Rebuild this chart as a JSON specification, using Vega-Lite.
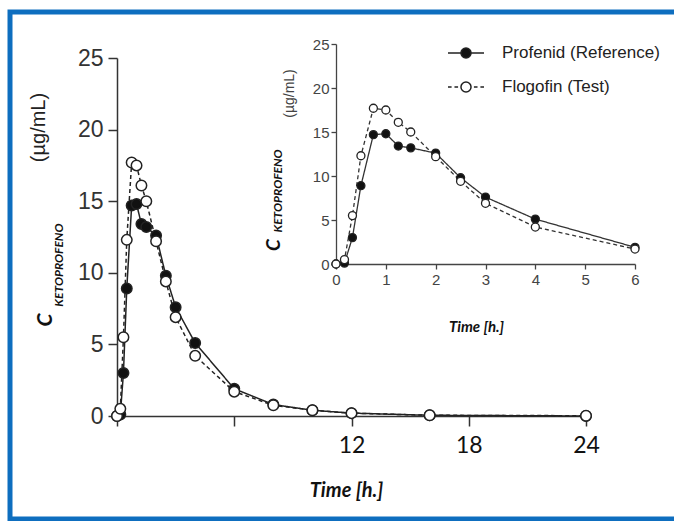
{
  "$schema": "https://vega.github.io/schema/vega-lite/v6.json",
  "width": 670,
  "height": 507,
  "autosize": {"type": "none"},
  "padding": {"left": 10, "top": 12, "right": -6, "bottom": 2},
  "background": "white",
  "config": {"view": {"stroke": "#0e6ebf", "strokeWidth": 5}, "axis": {"grid": false}},
  "datasets": {
    "pk": [
      {"t": 0, "c": 0, "s": "Profenid (Reference)"},
      {"t": 0.17, "c": 0.1, "s": "Profenid (Reference)"},
      {"t": 0.33, "c": 3.0, "s": "Profenid (Reference)"},
      {"t": 0.5, "c": 8.9, "s": "Profenid (Reference)"},
      {"t": 0.75, "c": 14.7, "s": "Profenid (Reference)"},
      {"t": 1, "c": 14.8, "s": "Profenid (Reference)"},
      {"t": 1.25, "c": 13.4, "s": "Profenid (Reference)"},
      {"t": 1.5, "c": 13.2, "s": "Profenid (Reference)"},
      {"t": 2, "c": 12.6, "s": "Profenid (Reference)"},
      {"t": 2.5, "c": 9.8, "s": "Profenid (Reference)"},
      {"t": 3, "c": 7.6, "s": "Profenid (Reference)"},
      {"t": 4, "c": 5.1, "s": "Profenid (Reference)"},
      {"t": 6, "c": 1.9, "s": "Profenid (Reference)"},
      {"t": 8, "c": 0.8, "s": "Profenid (Reference)"},
      {"t": 10, "c": 0.4, "s": "Profenid (Reference)"},
      {"t": 12, "c": 0.2, "s": "Profenid (Reference)"},
      {"t": 16, "c": 0.05, "s": "Profenid (Reference)"},
      {"t": 24, "c": 0.0, "s": "Profenid (Reference)"},
      {"t": 0, "c": 0, "s": "Flogofin (Test)"},
      {"t": 0.17, "c": 0.5, "s": "Flogofin (Test)"},
      {"t": 0.33, "c": 5.5, "s": "Flogofin (Test)"},
      {"t": 0.5, "c": 12.3, "s": "Flogofin (Test)"},
      {"t": 0.75, "c": 17.7, "s": "Flogofin (Test)"},
      {"t": 1, "c": 17.5, "s": "Flogofin (Test)"},
      {"t": 1.25, "c": 16.1, "s": "Flogofin (Test)"},
      {"t": 1.5, "c": 15.0, "s": "Flogofin (Test)"},
      {"t": 2, "c": 12.2, "s": "Flogofin (Test)"},
      {"t": 2.5, "c": 9.4, "s": "Flogofin (Test)"},
      {"t": 3, "c": 6.9, "s": "Flogofin (Test)"},
      {"t": 4, "c": 4.2, "s": "Flogofin (Test)"},
      {"t": 6, "c": 1.7, "s": "Flogofin (Test)"},
      {"t": 8, "c": 0.75, "s": "Flogofin (Test)"},
      {"t": 10, "c": 0.4, "s": "Flogofin (Test)"},
      {"t": 12, "c": 0.2, "s": "Flogofin (Test)"},
      {"t": 16, "c": 0.05, "s": "Flogofin (Test)"},
      {"t": 24, "c": 0.02, "s": "Flogofin (Test)"}
    ]
  },
  "resolve": {
    "scale": {"x": "independent", "y": "independent"},
    "axis": {"x": "independent", "y": "independent"}
  },
  "layer": [
    {
      "data": {"name": "pk"},
      "layer": [
        {
          "mark": {"type": "line", "stroke": "#222", "strokeWidth": 1.5},
          "encoding": {
            "x": {
              "field": "t", "type": "quantitative",
              "scale": {"domain": [0, 24], "range": [107, 576], "nice": false, "zero": false},
              "axis": {
                "orient": "bottom", "offset": -103, "values": [0, 6, 12, 18, 24],
                "labelExpr": "datum.value >= 12 ? datum.label : ''",
                "title": "Time [h.]", "titleX": 336, "titleY": 80, "titleAlign": "center", "titleBaseline": "alphabetic",
                "titleFont": "Lato", "titleFontSize": 20, "titleFontStyle": "italic", "titleFontWeight": "bold", "titleColor": "#111",
                "labelFont": "Lato", "labelFontSize": 23, "labelColor": "#111", "labelPadding": 8, "labelFlush": false, "labelOverlap": false,
                "tickSize": 10, "tickWidth": 1.5, "tickColor": "#333", "domainColor": "#333", "domainWidth": 1.5, "grid": false
              }
            },
            "y": {
              "field": "c", "type": "quantitative",
              "scale": {"domain": [0, 25], "range": [404, 46], "nice": false, "zero": false},
              "axis": {
                "orient": "left", "offset": -107, "values": [0, 5, 10, 15, 20, 25],
                "title": "(µg/mL)", "titleX": -73, "titleY": 115, "titleAngle": 270, "titleAlign": "center", "titleBaseline": "alphabetic",
                "titleFont": "Liberation Sans", "titleFontSize": 20, "titleFontWeight": "normal", "titleColor": "#222",
                "labelFont": "Liberation Sans", "labelFontSize": 23, "labelColor": "#333", "labelPadding": 5, "labelFlush": false, "labelOverlap": false,
                "tickSize": 9, "tickWidth": 1.5, "tickColor": "#333", "domainColor": "#333", "domainWidth": 1.5, "grid": false
              }
            },
            "strokeDash": {
              "field": "s", "type": "nominal",
              "scale": {"domain": ["Flogofin (Test)", "Profenid (Reference)"], "range": [[4, 3], [1, 0]]},
              "legend": null
            }
          }
        },
        {
          "mark": {"type": "point", "shape": "circle", "filled": true, "size": 110, "stroke": "#222", "strokeWidth": 1.5, "opacity": 1},
          "encoding": {
            "x": {"field": "t", "type": "quantitative"},
            "y": {"field": "c", "type": "quantitative"},
            "fill": {
              "field": "s", "type": "nominal",
              "scale": {"domain": ["Profenid (Reference)", "Flogofin (Test)"], "range": ["#111111", "#ffffff"]},
              "legend": {
                "orient": "none", "legendX": 437, "legendY": 22, "title": null, "padding": 0,
                "symbolType": "M-1,0H-0.28M0.28,0H1M0.28,0A0.28,0.28,0,1,1,-0.28,0A0.28,0.28,0,1,1,0.28,0Z",
                "symbolSize": 1296, "symbolStrokeColor": "#222", "symbolStrokeWidth": 1.5,
                "labelFont": "Liberation Sans", "labelFontSize": 17, "labelColor": "#222", "labelOffset": 17, "rowPadding": 6,
                "encoding": {
                  "symbols": {
                    "shape": {
                      "condition": {
                        "test": "datum.value === 'Flogofin (Test)'",
                        "value": "M-1,0H-0.8M-0.64,0H-0.44M0.44,0H0.64M0.8,0H1M0.28,0A0.28,0.28,0,1,1,-0.28,0A0.28,0.28,0,1,1,0.28,0Z"
                      },
                      "value": "M-1,0H-0.28M0.28,0H1M0.28,0A0.28,0.28,0,1,1,-0.28,0A0.28,0.28,0,1,1,0.28,0Z"
                    }
                  }
                }
              }
            }
          }
        },
        {
          "data": {"values": [{}]},
          "mark": {"type": "text", "text": "C", "angle": 270, "font": "Lato", "fontSize": 21, "fontStyle": "italic", "fontWeight": "bold", "align": "center", "baseline": "alphabetic", "color": "#111"},
          "encoding": {"x": {"datum": -3.33}, "y": {"datum": 6.7}}
        },
        {
          "data": {"values": [{}]},
          "mark": {"type": "text", "text": "KETOPROFENO", "angle": 270, "font": "Lato", "fontSize": 12, "fontStyle": "italic", "fontWeight": "bold", "align": "center", "baseline": "alphabetic", "color": "#111"},
          "encoding": {"x": {"datum": -2.76}, "y": {"datum": 10.54}}
        }
      ]
    },
    {
      "data": {"name": "pk"},
      "transform": [{"filter": "datum.t <= 6"}],
      "layer": [
        {
          "mark": {"type": "line", "stroke": "#333", "strokeWidth": 1.3},
          "encoding": {
            "x": {
              "field": "t", "type": "quantitative",
              "scale": {"domain": [0, 6], "range": [326, 625], "nice": false, "zero": false},
              "axis": {
                "orient": "bottom", "offset": -255, "values": [0, 1, 2, 3, 4, 5, 6], "format": "d",
                "title": "Time [h.]", "titleX": 466, "titleY": 67, "titleAlign": "center", "titleBaseline": "alphabetic",
                "titleFont": "Lato", "titleFontSize": 15, "titleFontStyle": "italic", "titleFontWeight": "bold", "titleColor": "#111",
                "labelFont": "Liberation Sans", "labelFontSize": 15, "labelColor": "#444", "labelPadding": 3, "labelFlush": false, "labelOverlap": false,
                "tickSize": 5, "tickWidth": 1.3, "tickColor": "#444", "domainColor": "#444", "domainWidth": 1.3, "grid": false
              }
            },
            "y": {
              "field": "c", "type": "quantitative",
              "scale": {"domain": [0, 25], "range": [252, 32], "nice": false, "zero": false},
              "axis": {
                "orient": "left", "offset": -326, "values": [0, 5, 10, 15, 20, 25],
                "title": "(µg/mL)", "titleX": -43, "titleY": 81, "titleAngle": 270, "titleAlign": "center", "titleBaseline": "alphabetic",
                "titleFont": "Liberation Sans", "titleFontSize": 14, "titleFontWeight": "normal", "titleColor": "#444",
                "labelFont": "Liberation Sans", "labelFontSize": 15, "labelColor": "#444", "labelPadding": 2, "labelFlush": false, "labelOverlap": false,
                "tickSize": 5, "tickWidth": 1.3, "tickColor": "#444", "domainColor": "#444", "domainWidth": 1.3, "grid": false
              }
            },
            "strokeDash": {
              "field": "s", "type": "nominal",
              "scale": {"domain": ["Flogofin (Test)", "Profenid (Reference)"], "range": [[4, 3], [1, 0]]},
              "legend": null
            }
          }
        },
        {
          "mark": {"type": "point", "shape": "circle", "filled": true, "size": 64, "stroke": "#222", "strokeWidth": 1.3, "opacity": 1},
          "encoding": {
            "x": {"field": "t", "type": "quantitative"},
            "y": {"field": "c", "type": "quantitative"},
            "fill": {
              "field": "s", "type": "nominal",
              "scale": {"domain": ["Profenid (Reference)", "Flogofin (Test)"], "range": ["#111111", "#ffffff"]}
            }
          }
        },
        {
          "data": {"values": [{}]},
          "mark": {"type": "text", "text": "C", "angle": 270, "font": "Lato", "fontSize": 19, "fontStyle": "italic", "fontWeight": "bold", "align": "center", "baseline": "alphabetic", "color": "#111"},
          "encoding": {"x": {"datum": -1.12}, "y": {"datum": 2.16}}
        },
        {
          "data": {"values": [{}]},
          "mark": {"type": "text", "text": "KETOPROFENO", "angle": 270, "font": "Lato", "fontSize": 12, "fontStyle": "italic", "fontWeight": "bold", "align": "center", "baseline": "alphabetic", "color": "#111"},
          "encoding": {"x": {"datum": -1.08}, "y": {"datum": 8.3}}
        }
      ]
    }
  ]
}
